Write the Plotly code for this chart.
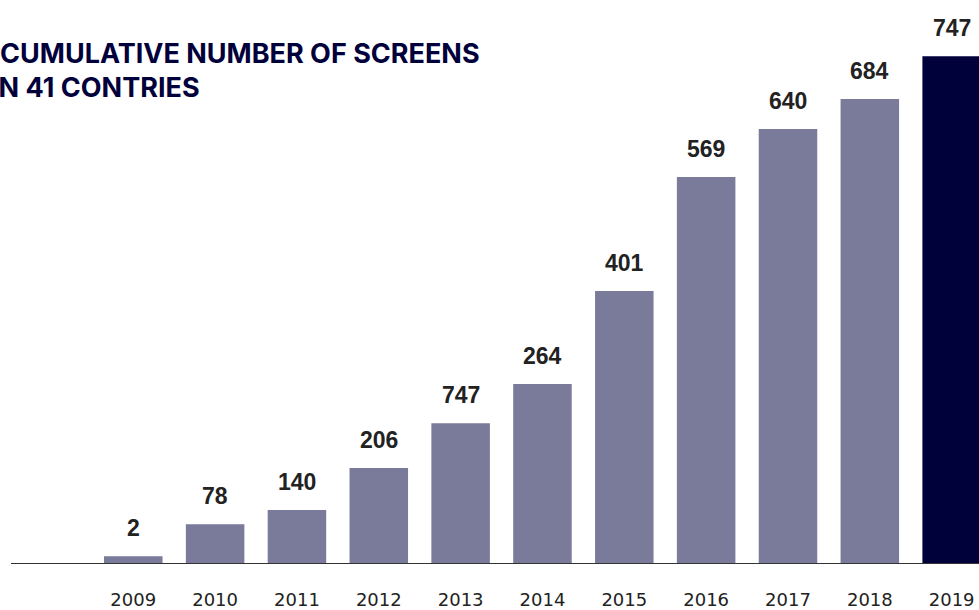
import plotly.graph_objects as go

years = [2009, 2010, 2011, 2012, 2013, 2014, 2015, 2016, 2017, 2018, 2019]
bar_values = [10, 57, 78, 140, 206, 264, 401, 569, 640, 684, 747]
bar_labels = ["2", "78", "140", "206", "747", "264", "401", "569", "640", "684", "747"]
tick_labels = [str(y) for y in years]
title_line1 = "CUMULATIVE NUMBER OF SCREENS"
title_line2 = "IN 41 CONTRIES"

GREY = "#7a7b9b"
NAVY = "#00003a"
colors = [GREY] * (len(years) - 1) + [NAVY]

fig = go.Figure()
fig.add_trace(go.Bar(
    x=years, y=bar_values, marker=dict(color=colors, line=dict(width=0)),
    hoverinfo="skip", cliponaxis=False,
))

for yr, v, lab in zip(years, bar_values, bar_labels):
    fig.add_annotation(
        x=yr, y=v, text=lab, showarrow=False, xref="x", yref="y",
        yanchor="bottom", yshift=13,
        font=dict(family="Liberation Sans, Arial, sans-serif", size=23, color="#222222", weight="bold"),
    )

title_font = dict(family="Inter, sans-serif", size=27, color=NAVY, weight="bold")
fig.add_annotation(
    x=-13 / 968, y=(566 - 54) / 566, xref="paper", yref="paper", text=title_line1, showarrow=False,
    xanchor="left", yanchor="middle", font=title_font,
)
fig.add_annotation(
    x=-22 / 968, y=(566 - 88) / 566, xref="paper", yref="paper", text=title_line2, showarrow=False,
    xanchor="left", yanchor="middle", font=title_font,
)

fig.update_layout(
    width=979, height=610,
    margin=dict(l=11, r=0, t=0, b=44),
    paper_bgcolor="white", plot_bgcolor="white",
    bargap=0.285,
    showlegend=False,
    xaxis=dict(
        range=[2007.506, 2019.334], tickmode="array", tickvals=years, ticktext=tick_labels,
        showgrid=False, zeroline=False, showline=True, linecolor="#333333", linewidth=1,
        ticks="", ticklabelstandoff=20,
        tickfont=dict(family="DejaVu Sans, sans-serif", size=18, color="#222222"),
        fixedrange=True,
    ),
    yaxis=dict(range=[0, 830], visible=False, fixedrange=True),
)

fig.write_html("out.html", config={"displayModeBar": False},
               post_script="document.body.style.margin='0';document.body.style.overflow='hidden';")
